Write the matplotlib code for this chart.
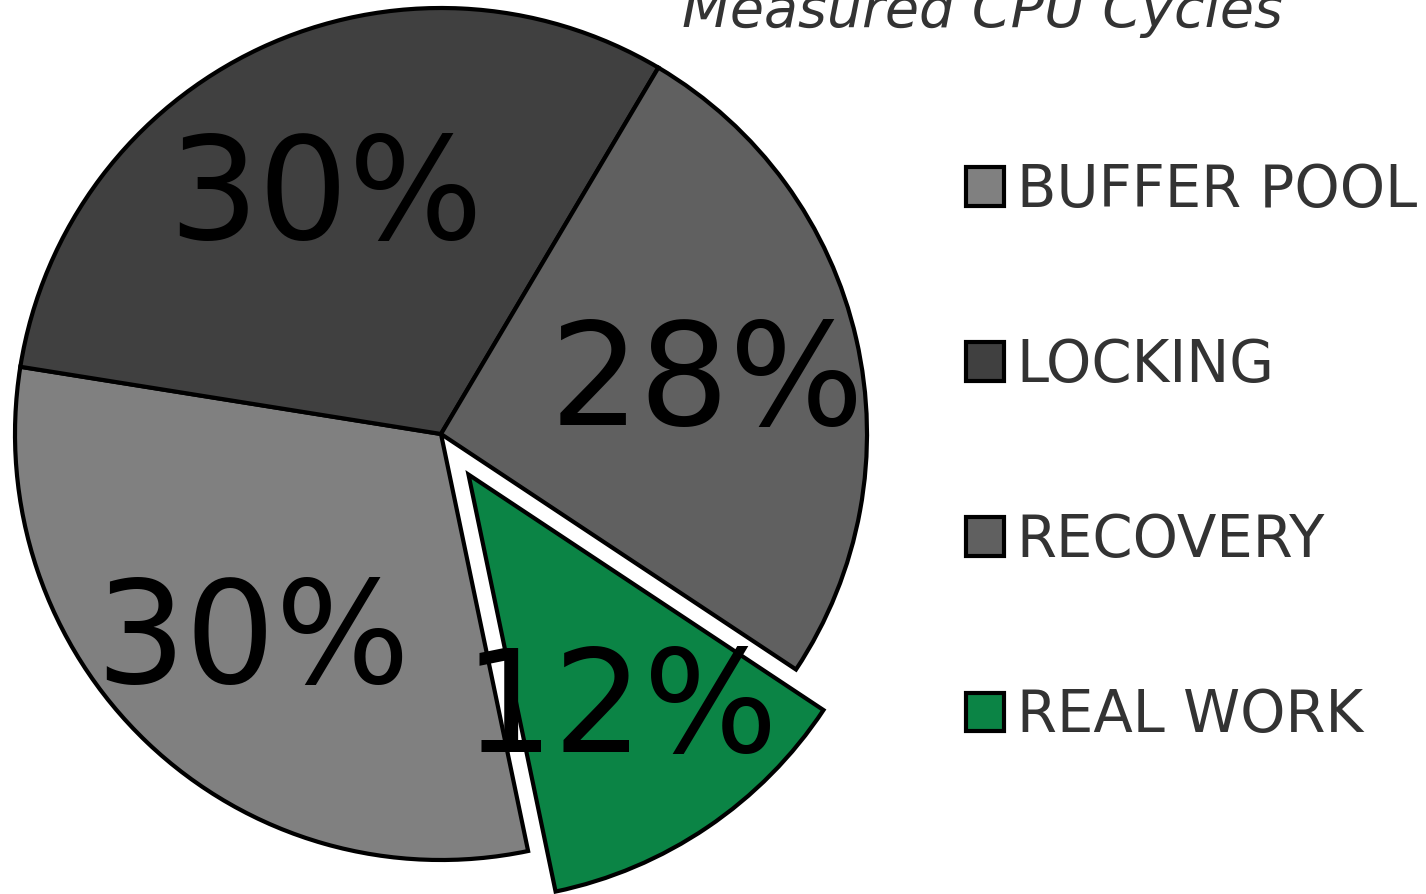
#!/usr/bin/env python3

"""
Pie chart of measured CPU cycles by component.
"""

import numpy as np
import matplotlib.pyplot as plt

components = ['BUFFER POOL', 'LOCKING', 'RECOVERY', 'REAL WORK']
shares = [30.8, 31.0, 25.8, 12.4]
share_labels = ['30%', '30%', '28%', '12%']
colors = ['#808080', '#404040', '#606060', '#0b8445']
explode = [0, 0, 0, 0.115]


def make_plot():
    figure = plt.figure(figsize=(14.26, 8.94), dpi=100)
    width, height = figure.get_size_inches() * figure.dpi

    radius_px = 426
    span = 1.3
    center_x, center_y = 441, height - 434
    box_w = 2 * span * radius_px
    axes = figure.add_axes([
        (center_x - box_w / 2) / width,
        (center_y - box_w / 2) / height,
        box_w / width,
        box_w / height,
    ])

    wedges, _ = axes.pie(
        shares,
        colors=colors,
        explode=explode,
        startangle=-78.2,
        counterclock=False,
        wedgeprops={'edgecolor': 'black', 'linewidth': 3},
    )
    axes.set_xlim(-span, span)
    axes.set_ylim(-span, span)
    axes.set_aspect('equal')
    axes.axis('off')

    label_size = 102
    for wedge, text in zip(wedges, share_labels):
        mid = np.deg2rad((wedge.theta1 + wedge.theta2) / 2)
        cx, cy = wedge.center
        dist = 0.64 * wedge.r
        # baseline shifted down so the digits sit centred on the point
        axes.annotate(
            text,
            (cx + dist * np.cos(mid), cy + dist * np.sin(mid)),
            xytext=(0, -0.3645 * label_size),
            textcoords='offset points',
            ha='center',
            va='baseline',
            fontsize=label_size,
            color='black',
        )

    figure.legend(
        wedges,
        components,
        loc='center left',
        bbox_to_anchor=(966 / width, 0.5 - 6 / height),
        frameon=False,
        fontsize=41.5,
        labelcolor='#333333',
        handlelength=0.66,
        handleheight=0.66,
        handletextpad=0.22,
        labelspacing=2.05,
        borderpad=0,
        borderaxespad=0,
    )

    figure.text(
        982 / width,
        (height - 27) / height,
        'Measured CPU Cycles',
        ha='center',
        va='baseline',
        fontsize=40,
        style='italic',
        color='#333333',
    )

    figure.savefig('out.png', dpi=100)


def main():
    make_plot()


if __name__ == '__main__':
    main()
